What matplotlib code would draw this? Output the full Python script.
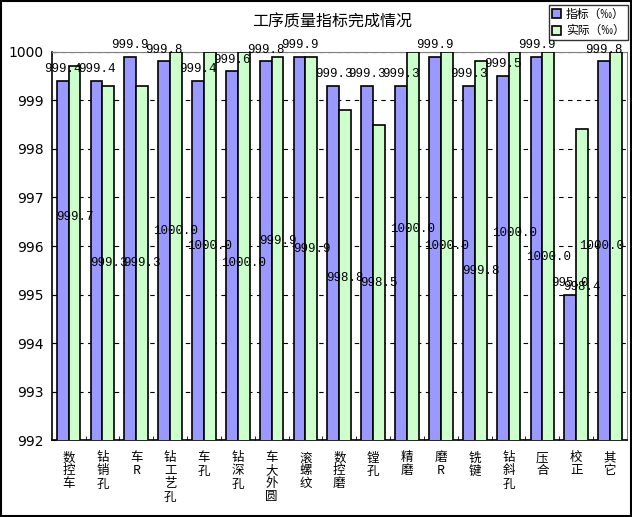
import numpy as np
import matplotlib.pyplot as plt
from matplotlib.patches import Rectangle

# -----------------------------
# DATA
# -----------------------------
categories = ["数控车", "钻销孔", "车R", "钻工艺孔", "车孔", "钻深孔", "车大外圆", "滚螺纹",
              "数控磨", "镗孔", "精磨", "磨R", "铣键", "钻斜孔", "压合", "校正", "其它"]
target = [999.4, 999.4, 999.9, 999.8, 999.4, 999.6, 999.8, 999.9, 999.3,
          999.3, 999.3, 999.9, 999.3, 999.5, 999.9, 995.0, 999.8]
actual = [999.7, 999.3, 999.3, 1000.0, 1000.0, 1000.0, 999.9, 999.9, 998.8,
          998.5, 1000.0, 1000.0, 999.8, 1000.0, 1000.0, 998.4, 1000.0]
# where the labels of the actual series sit (value axis units)
actual_label_y = [996.6, 995.66, 995.66, 996.3, 996.0, 995.65, 996.1, 995.94, 995.35,
                  995.24, 996.35, 996.0, 995.49, 996.27, 995.78, 995.15, 996.0]

CJK = ["Noto Sans CJK SC", "DejaVu Sans"]
MONO = "Liberation Mono"

fig = plt.figure(figsize=(6.32, 5.17), dpi=100)
ax = fig.add_axes([0.0818, 0.1483, 0.9102, 0.7517])

x = np.arange(len(categories))
w = 0.35

ax.bar(x - w / 2, target, w, color="#9999FF", edgecolor="black", linewidth=1.2,
       label="指标（‰）", zorder=3)
ax.bar(x + w / 2, actual, w, color="#CCFFCC", edgecolor="black", linewidth=1.2,
       label="实际（‰）", zorder=3)

# data labels
n = len(categories)
for i in range(n):
    ax.annotate(f"{target[i]:.1f}", (x[i] - w / 2, target[i]), xytext=(0, 8.3),
                textcoords="offset points", ha="center", va="center",
                fontsize=9, family=MONO, zorder=5, annotation_clip=False)
    if i == n - 1:
        # keep the last label inside the chart, like the original does
        ax.text(x[i] + w + 0.08, actual_label_y[i], f"{actual[i]:.1f}", ha="right",
                va="center", fontsize=9, family=MONO, zorder=5)
    else:
        ax.text(x[i] + w / 2, actual_label_y[i], f"{actual[i]:.1f}", ha="center",
                va="center", fontsize=9, family=MONO, zorder=5)

ax.set_xlim(-0.5, n - 0.5)
ax.set_ylim(992, 1000)
ax.set_yticks(np.arange(992, 1001, 1))
ax.set_yticklabels([str(v) for v in range(992, 1001)], fontsize=10)

ax.set_xticks(x)
ax.set_xticklabels(["\n".join(c) for c in categories], family=CJK, fontsize=9,
                   va="top", linespacing=1.0)
ax.tick_params(axis="x", length=0, pad=8)
ax.set_xticks(np.arange(0.5, n - 0.5, 1), minor=True)
ax.tick_params(axis="x", which="minor", direction="in", length=3)
ax.tick_params(axis="y", direction="in", length=3, pad=6)

ax.yaxis.grid(True, linestyle=(0, (4, 4)), color="black", linewidth=0.8, zorder=0)
ax.set_axisbelow(True)

for s in ["top", "right"]:
    ax.spines[s].set_color("#808080")
for s in ["left", "bottom"]:
    ax.spines[s].set_color("black")
    ax.spines[s].set_linewidth(1.2)

fig.text(0.525, 0.957, "工序质量指标完成情况", ha="center", va="center",
         family=CJK, fontsize=11.5)

leg = fig.legend(loc="upper right", bbox_to_anchor=(0.993, 0.991), prop={"family": CJK, "size": 8.5},
                 frameon=True, fancybox=False, edgecolor="black", handlelength=0.8,
                 handleheight=0.8, handletextpad=0.4, borderpad=0.25, labelspacing=0.3,
                 borderaxespad=0)
leg.get_frame().set_linewidth(1)

# outer frame
fig.patches.append(Rectangle((0.001, 0.001), 0.997, 0.997, transform=fig.transFigure,
                             fill=False, edgecolor="black", linewidth=1.5))

fig.savefig("out.png", dpi=100)
